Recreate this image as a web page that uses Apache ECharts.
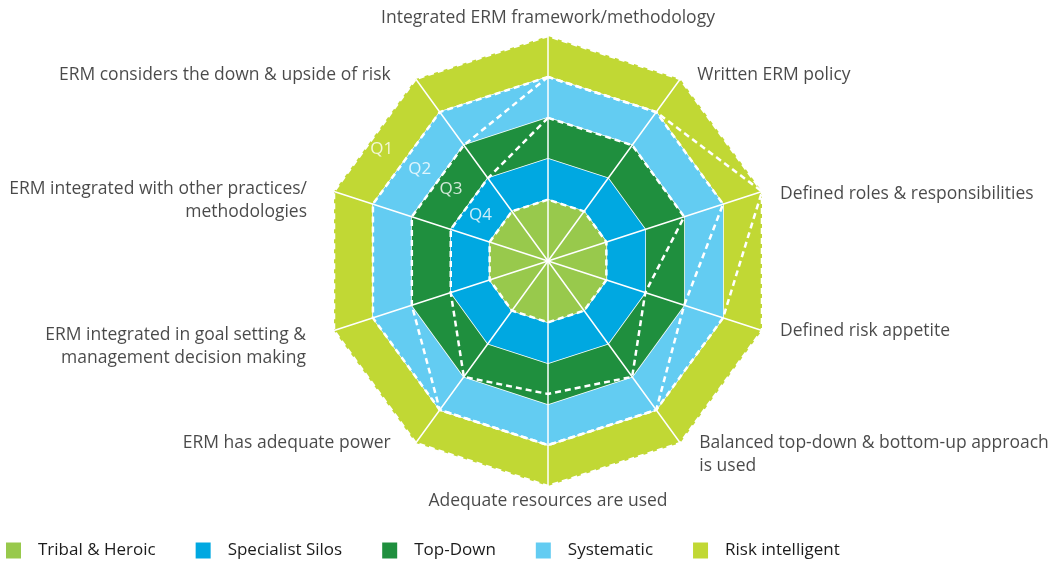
<!DOCTYPE html>
<html>
<head>
<meta charset="utf-8">
<script src="https://cdn.jsdelivr.net/npm/echarts@6/dist/echarts.min.js"></script>
<style>
  html, body { margin: 0; padding: 0; background: #fff; }
  #chart { width: 1053px; height: 565px; }
</style>
</head>
<body>
<div id="chart"></div>
<script>
// axes, clockwise from the top
var indicators = [
  'Integrated ERM framework/methodology',
  'Written ERM policy',
  'Defined roles & responsibilities',
  'Defined risk appetite',
  'Balanced top-down & bottom-up approach\nis used',
  'Adequate resources are used',
  'ERM has adequate power',
  'ERM integrated in goal setting &\nmanagement decision making',
  'ERM integrated with other practices/\nmethodologies',
  'ERM considers the down & upside of risk'
];

// maturity stages (rings), level 1 = centre
var stageNames = ['Tribal & Heroic', 'Specialist Silos', 'Top-Down', 'Systematic', 'Risk intelligent'];
var stageLevels = [1, 2, 3, 4, 5];
var stageColors = ['#98c94c', '#00a8e1', '#1f8f3e', '#63ccf2', '#c1d834'];

// quartile boundary lines (dashed), clockwise from the top
var qMax    = [5, 5, 5, 5, 5, 5, 5, 5, 5, 5];
var qUpper  = [4, 4, 5, 4, 4, 4, 4, 4, 4, 4];
var qMedian = [4, 4, 4, 3, 4, 4, 4, 3, 3, 3];
var qLower  = [3, 3, 3, 2, 3, 2.75, 3, 2, 2, 2];
var qMin    = [1, 1, 1, 1, 1, 1, 1, 1, 1, 1];

// band labels between the dashed lines
var quartileNames = ['Q1', 'Q2', 'Q3', 'Q4'];
var quartileRadius = [4.4, 3.35, 2.45, 1.5];
var quartileAngle = [304, 305.5, 306.5, 304.5];

var CX = 548, CY = 261, R = 225;
var FONT = 'Open Sans';
var TEXT = '#1c1c1c';

// echarts radar runs counter-clockwise, so flip the order after the top axis
function radarOrder(arr) {
  return [arr[0]].concat(arr.slice(1).reverse());
}

// label placement for the axis names: [align, dx, dy]
var nameLayout = [
  ['center', 0, -18],
  ['left', 17, -4],
  ['left', 18, 3],
  ['left', 18, 0],
  ['left', 19, 11],
  ['center', 0, 15],
  ['right', -25, 0],
  ['right', -28, 16],
  ['right', -27, 9],
  ['right', -25, -4]
];

var series = [];

// rings, biggest first so the smaller ones sit on top
for (var i = stageNames.length - 1; i >= 0; i--) {
  var lvl = stageLevels[i];
  series.push({
    type: 'radar',
    name: stageNames[i],
    symbol: 'none',
    silent: true,
    itemStyle: { color: stageColors[i] },
    lineStyle: { color: '#fff', width: 1.5 },
    areaStyle: { color: stageColors[i], opacity: 1 },
    data: [{ name: stageNames[i], value: radarOrder(indicators.map(function () { return lvl; })) }]
  });
}

[['Max', qMax], ['Upper quartile', qUpper], ['Median', qMedian], ['Lower quartile', qLower], ['Min', qMin]].forEach(function (q) {
  series.push({
    type: 'radar',
    name: q[0],
    symbol: 'none',
    silent: true,
    z: 4,
    lineStyle: { color: '#fff', width: 2.5, type: [6, 4] },
    data: [{ name: q[0], value: radarOrder(q[1]) }]
  });
});

// axis names
series.push({
  type: 'scatter',
  coordinateSystem: 'polar',
  symbolSize: 1,
  silent: true,
  itemStyle: { color: 'transparent' },
  label: { show: true, position: 'inside', formatter: '{b}', color: TEXT, fontSize: 17.5, fontFamily: FONT, lineHeight: 23 },
  data: indicators.map(function (n, i) {
    var l = nameLayout[i];
    return { name: n, value: [5, i * 360 / indicators.length], label: { align: l[0], verticalAlign: 'middle', offset: [l[1], l[2]] } };
  })
});

// Q1..Q4
series.push({
  type: 'scatter',
  coordinateSystem: 'polar',
  symbolSize: 1,
  silent: true,
  z: 5,
  itemStyle: { color: 'transparent' },
  label: { show: true, position: 'inside', formatter: '{b}', color: '#fff', fontSize: 17, fontFamily: FONT },
  data: quartileNames.map(function (n, i) {
    return { name: n, value: [quartileRadius[i], quartileAngle[i]] };
  })
});

var chart = echarts.init(document.getElementById('chart'));
chart.setOption({
  animation: false,
  backgroundColor: '#fff',
  legend: {
    data: stageNames,
    left: 1,
    top: 537,
    icon: 'rect',
    itemWidth: 15,
    itemHeight: 16,
    itemGap: 40,
    selectedMode: false,
    textStyle: { color: TEXT, fontSize: 17, fontFamily: FONT, padding: [0, 0, 0, 12] }
  },
  radar: {
    center: [CX, CY],
    radius: R,
    startAngle: 90,
    z: 3,
    indicator: radarOrder(indicators).map(function (n) { return { name: n, min: -0.5, max: 5 }; }),
    axisName: { show: false },
    axisLine: { lineStyle: { color: '#fff', width: 1.5 } },
    axisTick: { show: false },
    axisLabel: { show: false },
    splitLine: { show: false },
    splitArea: { show: false }
  },
  polar: { center: [CX, CY], radius: R },
  angleAxis: { type: 'value', min: 0, max: 360, startAngle: 90, clockwise: true, show: false },
  radiusAxis: { type: 'value', min: -0.5, max: 5, show: false },
  series: series
});
</script>
</body>
</html>
